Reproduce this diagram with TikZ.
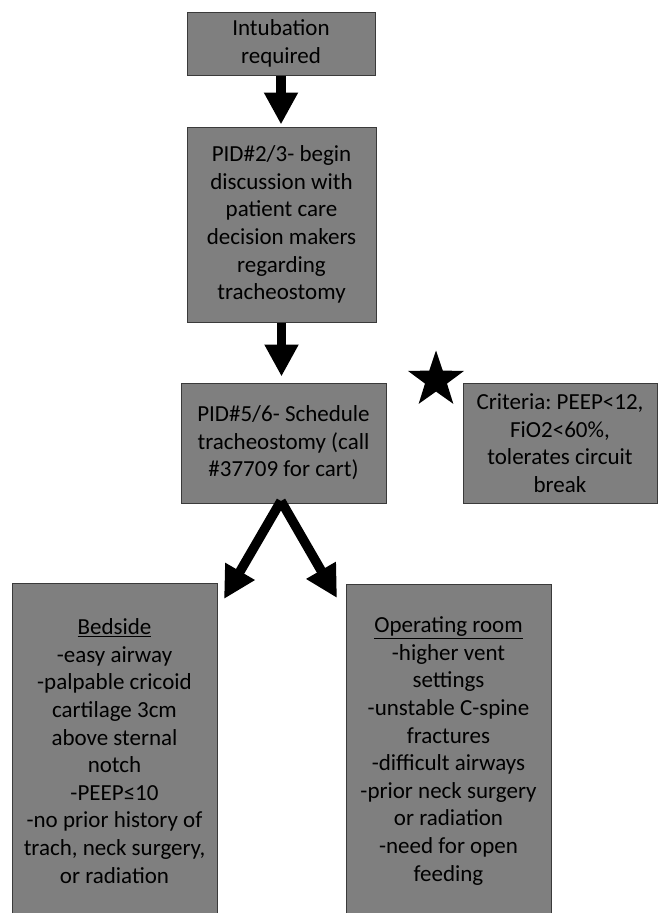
\documentclass[tikz,border=0pt]{standalone}
\usepackage{fontspec}
\setmainfont{Carlito}
\usetikzlibrary{arrows.meta,shapes.geometric}
\definecolor{boxfill}{HTML}{7F7F7F}
\definecolor{boxline}{HTML}{3A3A3A}
\frenchspacing
\begin{document}
\begin{tikzpicture}[x=1pt,y=-1pt,
  box/.style={draw=boxline,fill=boxfill,line width=1pt,align=center,inner sep=0pt,
    font=\fontsize{23}{27.6}\selectfont,text=black},
  bigarrow/.style={line width=9.5pt,-{Triangle[width=32pt,length=32pt]}},
]
\useasboundingbox (0,0) rectangle (659,913);
\clip (0,0) rectangle (659,913);

\node[box,minimum width=188pt,minimum height=63pt] (intub) at (281,43.5) {Intubation\\required};
\node[box,minimum width=189pt,minimum height=195pt] (pid23) at (281.5,224.5)
  {PID\#2/3- begin\\discussion with\\patient care\\decision makers\\regarding\\tracheostomy};
\node[box,minimum width=205pt,minimum height=120pt] (pid56) at (283.5,443)
  {PID\#5/6- Schedule\\tracheostomy (call\\\#37709 for cart)};
\node[box,minimum width=194pt,minimum height=120pt] (crit) at (560,443)
  {Criteria: PEEP<12,\\FiO2<60\%,\\tolerates circuit\\break};
\node[star,star points=5,star point ratio=2.55,fill=black,minimum size=59pt,inner sep=0pt] (star) at (436,380) {};
\node[box,minimum width=205pt,minimum height=336pt] (bed) at (114.5,751)
  {\underline{Bedside}\\-easy airway\\-palpable cricoid\\cartilage 3cm\\above sternal\\notch\\-PEEP≤10\\-no prior history of\\trach, neck surgery,\\or radiation};
\node[box,minimum width=205pt,minimum height=334pt] (or) at (448.5,751)
  {\underline{Operating room}\\-higher vent\\settings\\-unstable C-spine\\fractures\\-difficult airways\\-prior neck surgery\\or radiation\\-need for open\\feeding};

\coordinate (fork) at (281,501);
\coordinate (tipL) at (224,599);
\coordinate (tipR) at (337,598);

\draw[bigarrow,shorten >=2pt] (intub.south) -- (intub.south |- pid23.north);
\draw[bigarrow,shorten >=6pt] (pid23.south) -- (pid23.south |- pid56.north);
\draw[bigarrow] (fork) -- (tipL);
\draw[bigarrow] (fork) -- (tipR);
\end{tikzpicture}
\end{document}
